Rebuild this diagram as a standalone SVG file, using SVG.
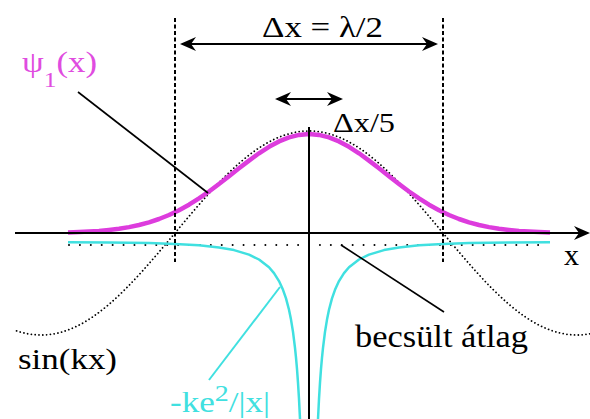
<svg xmlns="http://www.w3.org/2000/svg" width="590" height="419" viewBox="0 0 590 419">
<style>
text{font-family:'Liberation Serif','Times New Roman',serif}
.t{fill:#000}
.mg{fill:#e04ce0}
.cy{fill:#40e0e0}
.ax{stroke:#000;stroke-width:2;fill:none}
.dash{stroke:#000;stroke-width:2;stroke-dasharray:4 2.5;fill:none}
.dot{stroke:#000;stroke-width:1.8;stroke-dasharray:0.01 3.8;stroke-linecap:round;fill:none}
.dotw{stroke:#000;stroke-width:2;stroke-dasharray:0.01 10.9;stroke-linecap:round;fill:none}
.ptr{stroke:#000;stroke-width:1.6;fill:none}
</style>
<defs>
<marker id="ah" viewBox="0 0 16 14" refX="14" refY="7" markerWidth="16" markerHeight="14" markerUnits="userSpaceOnUse" orient="auto-start-reverse">
<path d="M0,0 L16,7 L0,14 L5,7 Z" fill="#000"/>
</marker>
<clipPath id="cl"><rect x="15" y="0" width="580" height="419"/></clipPath>
</defs>
<rect width="590" height="419" fill="#fff"/>

<g id="curves">
<path id="sin" class="dot" clip-path="url(#cl)" d="M-93,233 C-48.2,286.6 -7.2,335 41,335 C89.2,335 130.2,286.6 175,233 C219.8,179.4 260.8,131 309,131 C357.2,131 398.2,179.4 443,233 C487.8,286.6 528.8,335 577,335 C625.2,335 666.2,286.6 711,233"/>
<line id="avg" class="dotw" x1="69" y1="245" x2="549" y2="245"/>
<polyline id="psi" fill="none" stroke="#dd3cdd" stroke-width="4.5" stroke-linejoin="round" points="68,232.4 79,232 89,231.5 99,230.9 109,229.9 119,228.7 129,227.1 139,225 149,222.3 159,219 169,215 179,210.2 189,204.7 199,198.4 209,191.5 219,184 229,176.2 239,168.3 249,160.6 259,153.3 269,146.8 279,141.4 289,137.4 299,134.9 309,134 319,134.9 329,137.4 339,141.4 349,146.8 359,153.3 369,160.6 379,168.3 389,176.2 399,184 409,191.5 419,198.4 429,204.7 439,210.2 449,215 459,219 469,222.3 479,225 489,227.1 499,228.7 509,229.9 519,230.9 529,231.5 539,232 550,232.4"/>
<polyline id="potL" fill="none" stroke="#40e0e0" stroke-width="2.5" stroke-linejoin="round" points="68,242.2 109,242.5 149,243.1 175,243.9 199,245.3 219,247.4 234,250.1 249,254.6 259,259.5 269,267.3 274,273.1 279,281.1 283,289.8 286,298.4 289,309.8 291,319.6 293,331.9 295,347.8 296,357.6 297,369 298,382.6 299,399 300,419 300.5,430.8"/>
<polyline id="potR" fill="none" stroke="#40e0e0" stroke-width="2.5" stroke-linejoin="round" points="317.5,430.8 318,419 319,399 320,382.6 321,369 322,357.6 323,347.8 325,331.9 327,319.6 329,309.8 332,298.4 335,289.8 339,281.1 344,273.1 349,267.3 359,259.5 369,254.6 384,250.1 399,247.4 419,245.3 443,243.9 469,243.1 509,242.5 550,242.2"/>
</g>

<g id="axes">
<line class="ax" x1="15" y1="233" x2="588" y2="233" marker-end="url(#ah)"/>
<line class="ax" x1="309" y1="127" x2="309" y2="419" stroke-width="1.8"/>
<line class="dash" x1="175" y1="18" x2="175" y2="262"/>
<line class="dash" x1="443" y1="18" x2="443" y2="262"/>
</g>

<g id="connectors">
<line class="ax" x1="182" y1="44" x2="436" y2="44" marker-start="url(#ah)" marker-end="url(#ah)"/>
<line class="ax" x1="277" y1="99" x2="341" y2="99" marker-start="url(#ah)" marker-end="url(#ah)"/>
<line class="ptr" x1="78" y1="92" x2="208" y2="193"/>
<line class="ptr" x1="341" y1="245" x2="444" y2="312"/>
<line stroke="#40e0e0" stroke-width="2" x1="209" y1="380" x2="280" y2="287"/>
</g>

<g id="labels">
<text class="t" x="262" y="37" font-size="30" textLength="121" lengthAdjust="spacingAndGlyphs">Δx = λ/2</text>
<text class="t" x="333" y="132" font-size="27" textLength="62" lengthAdjust="spacingAndGlyphs">Δx/5</text>
<text class="t mg" x="22" y="72" font-size="30" textLength="75" lengthAdjust="spacingAndGlyphs">ψ<tspan dy="15" font-size="22">1</tspan><tspan dy="-15">(x)</tspan></text>
<text class="t" x="18" y="369" font-size="30" textLength="99" lengthAdjust="spacingAndGlyphs">sin(kx)</text>
<text class="t" x="355" y="347" font-size="31" textLength="173" lengthAdjust="spacingAndGlyphs">becsült átlag</text>
<text class="t" x="564" y="265" font-size="30">x</text>
<text class="t cy" x="170" y="412" font-size="30" textLength="100" lengthAdjust="spacingAndGlyphs">-ke<tspan dy="-11" font-size="24">2</tspan><tspan dy="11">/|x|</tspan></text>
</g>
</svg>
